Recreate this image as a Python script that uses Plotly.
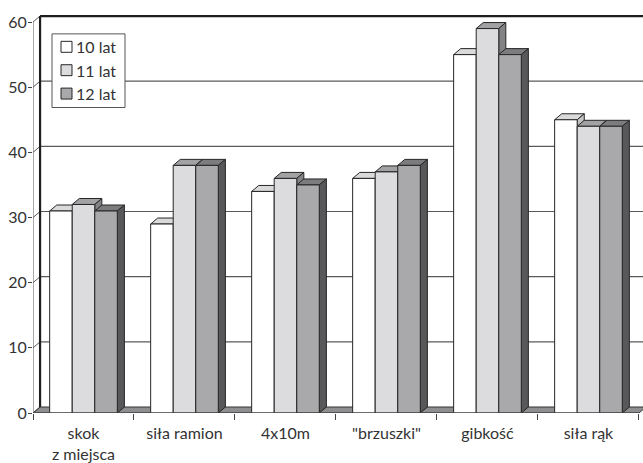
import plotly.graph_objects as go

# Test categories and results for three age groups
categories = ["skok<br>z miejsca", "siła ramion", "4x10m", "\"brzuszki\"", "gibkość", "siła rąk"]
series_names = ["10 lat", "11 lat", "12 lat"]
vals_10 = [31, 29, 34, 36, 55, 45]
vals_11 = [32, 38, 36, 37, 59, 44]
vals_12 = [31, 38, 35, 38, 55, 44]
y_ticks = [0, 10, 20, 30, 40, 50, 60]

series_values = [vals_10, vals_11, vals_12]

# Face colours per series: front, top, side
front_cols = ["#ffffff", "#dcdcde", "#a9a9ab"]
top_cols = ["#dadada", "#a2a2a4", "#7c7c7e"]
side_cols = ["#c4c4c4", "#838385", "#58585a"]
edge = "#262626"

W = 0.2233          # single bar width (category units)
G = 3 * W           # group width
DX = 0.07           # depth offset, horizontal (category units)
DY = 0.92           # depth offset, vertical (value units)
YMAX = 60
n = len(categories)
x0, x1 = -0.5, n - 0.5
idx = list(range(n))

# plot area in pixels (for the boxed key)
L, T, B = 33, 9, 48
FIG_W, FIG_H = 643, 463
PW, PH = FIG_W - L, FIG_H - T - B

fig = go.Figure()
shapes = []
annotations = []


def poly(pts, fill, lw=1, col=edge):
    path = "M " + " L ".join(f"{px},{py}" for px, py in pts) + " Z"
    shapes.append(dict(type="path", path=path, xref="x", yref="y",
                       fillcolor=fill, line=dict(color=col, width=lw), layer="below"))


def seg(xa, ya, xb, yb, col="#555555", lw=1):
    shapes.append(dict(type="line", x0=xa, y0=ya, x1=xb, y1=yb, xref="x", yref="y",
                       line=dict(color=col, width=lw), layer="below"))


def px_x(p):
    return (p - L) / PW


def px_y(p):
    return (FIG_H - B - p) / PH


# back wall gridlines and left-wall diagonals
for v in y_ticks[1:-1]:
    seg(x0 + DX, v + DY, x1 + DX + 0.2, v + DY, "#5a5a5a", 1.2)
for v in y_ticks:
    seg(x0, v, x0 + DX, v + DY, "#5a5a5a", 1)

# floor slab
poly([(x0, 0), (x1, 0), (x1 + DX, DY), (x0 + DX, DY)], "#8e8e90", 1, "#333333")

# walls: back-left edge and top edge
seg(x0 + DX, DY, x0 + DX, YMAX + DY, "#1e1e1e", 2.2)
seg(x0 + DX, YMAX + DY, x1 + DX + 0.2, YMAX + DY, "#1e1e1e", 2.2)
# front value axis line
seg(x0, 0, x0, YMAX, "#555555", 1)

# top and side faces for every bar, in drawing order
for i in idx:
    for j, vals in enumerate(series_values):
        h = vals[i]
        left = i - G / 2 + j * W
        right = left + W
        poly([(left, h), (right, h), (right + DX, h + DY), (left + DX, h + DY)], top_cols[j])
        poly([(right, 0), (right + DX, DY), (right + DX, h + DY), (right, h)], side_cols[j])

# front faces
for j, vals in enumerate(series_values):
    fig.add_trace(go.Bar(
        x=idx, y=vals, name=series_names[j],
        width=W, offset=-G / 2 + j * W, showlegend=False,
        marker=dict(color=front_cols[j], line=dict(color=edge, width=1)),
    ))

font = dict(family="Lato, 'Open Sans', sans-serif", size=16, color="#333333")

# boxed key in the upper-left corner
key_shapes = [dict(type="rect", xref="paper", yref="paper",
                   x0=px_x(52), x1=px_x(125), y0=px_y(108), y1=px_y(34),
                   fillcolor="white", line=dict(color="#555555", width=1), layer="above")]
for j, name in enumerate(series_names):
    cy = 47 + j * 23.5
    key_shapes.append(dict(type="rect", xref="paper", yref="paper",
                           x0=px_x(61), x1=px_x(72), y0=px_y(cy + 5.5), y1=px_y(cy - 5.5),
                           fillcolor=front_cols[j], line=dict(color=edge, width=1), layer="above"))
    annotations.append(dict(text=name, xref="paper", yref="paper",
                            x=px_x(74), y=px_y(cy), xanchor="left", yanchor="middle",
                            showarrow=False, font=font))

fig.update_layout(
    width=FIG_W, height=FIG_H,
    margin=dict(l=L, r=0, t=T, b=B),
    paper_bgcolor="white", plot_bgcolor="white",
    barmode="overlay",
    font=font,
    shapes=shapes + key_shapes,
    annotations=annotations,
    showlegend=False,
    xaxis=dict(
        range=[x0, x1 + 0.04], tickmode="array", tickvals=idx, ticktext=categories,
        ticks="", showgrid=False, zeroline=False, showline=False, ticklabelstandoff=9,
        minor=dict(tickmode="array", tickvals=[k - 0.5 for k in range(n + 1)],
                   ticks="outside", ticklen=6, tickcolor="#444444", showgrid=False),
        fixedrange=True,
    ),
    yaxis=dict(
        range=[0, 62], tickmode="array", tickvals=y_ticks,
        ticks="outside", ticklen=4, tickcolor="#444444", ticklabelstandoff=-2,
        showgrid=False, zeroline=False, showline=False, fixedrange=True,
    ),
)

# front category axis line
fig.add_shape(type="line", x0=x0, y0=0, x1=x1, y1=0, xref="x", yref="y",
              line=dict(color="#444444", width=1), layer="above")

fig.write_html("out.html")
